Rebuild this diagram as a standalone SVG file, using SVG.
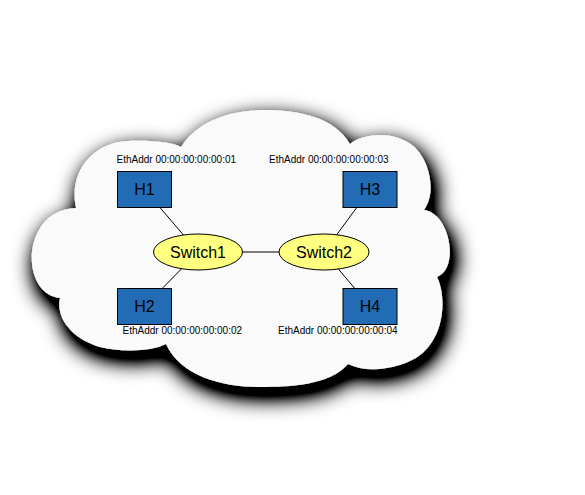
<svg xmlns="http://www.w3.org/2000/svg" width="585" height="495" viewBox="0 0 585 495">
<style>
.host{fill:#226cb6;stroke:#000;stroke-width:1}
.sw{fill:#ffff80;stroke:#000;stroke-width:1}
.lbl{font-family:"Liberation Sans",Arial,sans-serif;font-size:16px;fill:#000;text-anchor:middle}
.addr{font-family:"Liberation Sans",Arial,sans-serif;font-size:10px;fill:#000}
.edge{stroke:#000;stroke-width:1;fill:none}
</style>
<defs>
<filter id="shadow" x="-25%" y="-25%" width="150%" height="160%">
<feGaussianBlur in="SourceAlpha" stdDeviation="11"/>
<feOffset dx="4" dy="9" result="b"/>
<feComponentTransfer in="b" result="s"><feFuncA type="linear" slope="2"/></feComponentTransfer>
<feMerge><feMergeNode in="s"/><feMergeNode in="SourceGraphic"/></feMerge>
</filter>
</defs>
<rect width="585" height="495" fill="#fff"/>
<g id="cloud">
<path filter="url(#shadow)" fill="#fafafa" d="M181,147 C200,118 235,110 266,110 C300,110 335,118 350,144 C362,134 392,130 412,145 C428,157 438,190 424,210 C450,213 460,268 437,277 C446,295 446,335 420,355 C405,367 370,375 348,364 C330,385 290,387 260,387 C220,387 180,375 166,344 C150,352 120,352 100,347 C75,340 55,320 60,298 C20,295 20,210 76,208 C68,170 95,142 128,141 C150,140 172,142 181,147 Z"/>
</g>
<g id="connectors">
<line class="edge" x1="144.5" y1="189.5" x2="198" y2="252"/>
<line class="edge" x1="144.5" y1="306.5" x2="198" y2="252"/>
<line class="edge" x1="198" y1="252" x2="324" y2="252"/>
<line class="edge" x1="370" y1="189.5" x2="324" y2="252"/>
<line class="edge" x1="370" y1="306.5" x2="324" y2="252"/>
</g>
<g id="H1">
<rect class="host" x="117.5" y="171.5" width="54" height="36"/>
<text class="lbl" x="144.5" y="195">H1</text>
<text class="addr" x="116.5" y="163">EthAddr 00:00:00:00:00:01</text>
</g>
<g id="H3">
<rect class="host" x="343" y="171.5" width="54" height="36"/>
<text class="lbl" x="370" y="195">H3</text>
<text class="addr" x="269" y="163">EthAddr 00:00:00:00:00:03</text>
</g>
<g id="H2">
<rect class="host" x="117.5" y="288.5" width="54" height="36"/>
<text class="lbl" x="144.5" y="312">H2</text>
<text class="addr" x="122.5" y="334">EthAddr 00:00:00:00:00:02</text>
</g>
<g id="H4">
<rect class="host" x="343" y="288.5" width="54" height="36"/>
<text class="lbl" x="370" y="312">H4</text>
<text class="addr" x="278" y="334">EthAddr 00:00:00:00:00:04</text>
</g>
<g id="Switch1">
<ellipse class="sw" cx="198" cy="252" rx="44.5" ry="18"/>
<text class="lbl" x="198" y="258">Switch1</text>
</g>
<g id="Switch2">
<ellipse class="sw" cx="324" cy="252" rx="45" ry="18"/>
<text class="lbl" x="324" y="258">Switch2</text>
</g>
</svg>
